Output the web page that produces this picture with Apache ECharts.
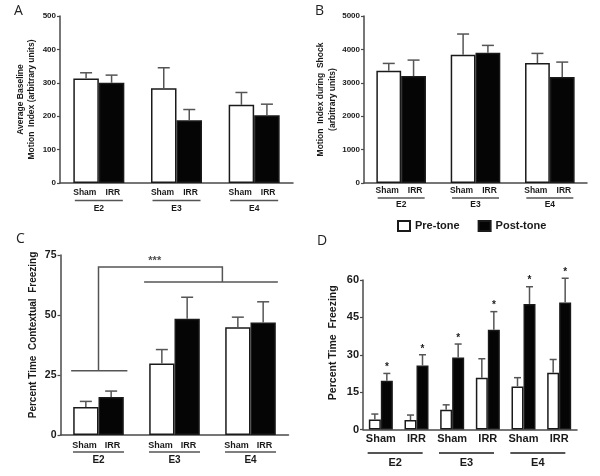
<!DOCTYPE html>
<html><head><meta charset="utf-8">
<script src="https://cdn.jsdelivr.net/npm/echarts@6/dist/echarts.min.js"></script>
<style>html,body{margin:0;padding:0;background:#fff}#c{width:600px;height:476px}</style>
</head><body><div id="c"></div>
<script>
// ---- data ----
const groups = ['E2', 'E3', 'E4'];
const aSham = [313, 284, 234];
const aShamSem = [17, 61, 37];
const aIrr = [300, 188, 203];
const aIrrSem = [23, 32, 33];
const bSham = [3360, 3840, 3590];
const bShamSem = [220, 620, 290];
const bIrr = [3200, 3900, 3170];
const bIrrSem = [480, 220, 450];
const cSham = [11.7, 29.8, 44.9];
const cShamSem = [2.3, 5.8, 4.2];
const cIrr = [15.8, 48.4, 46.9];
const cIrrSem = [2.5, 9.0, 8.6];
const dCats = ['Sham', 'IRR', 'Sham', 'IRR', 'Sham', 'IRR'];
const dGroups = ['E2', 'E3', 'E4'];
const dPre = [4.0, 3.8, 7.9, 20.8, 17.3, 22.8];
const dPreSem = [2.2, 2.0, 2.0, 7.6, 3.5, 5.3];
const dPost = [19.6, 25.7, 28.9, 40.0, 50.4, 51.0];
const dPostSem = [2.9, 4.3, 5.4, 7.3, 6.9, 9.7];
const cSigText = '***';
// bracket in panel C (x in group units 0..3, y in % freezing)
const cBracketE2 = [[0.14, 26.8], [0.88, 26.8]];
const cBracketMain = [[0.5, 26.8], [0.5, 70], [2.13, 70], [2.13, 63.7]];
const cBracketE34 = [[1.1, 63.7], [2.86, 63.7]];
const cSigPos = [1.24, 72.6];

// ---- style ----
const FF = '"Liberation Sans", Arial, sans-serif';
const AX = '#4a4a4a';
const TXT = '#1a1a1a';
const chart = echarts.init(document.getElementById('c'), null, {renderer: 'canvas'});

function yAx(gi, max, interval, name, fs, nameGap, nameFs, lh, namePad) {
  return {
    type: 'value', gridIndex: gi, min: 0, max: max, interval: interval,
    axisLine: {show: true, lineStyle: {color: AX, width: 1.5}},
    axisTick: {show: true, length: 3, lineStyle: {color: AX, width: 1.2}},
    splitLine: {show: false},
    axisLabel: {fontSize: fs, fontWeight: 'bold', fontFamily: FF, color: TXT, margin: 4, formatter: v => String(v)},
    name: name, nameLocation: 'middle', nameGap: nameGap, nameRotate: 90,
    nameTextStyle: {fontSize: nameFs, fontWeight: 'bold', fontFamily: FF, color: TXT, lineHeight: lh, padding: namePad || 0}
  };
}
function xAxGroup(gi, fs, gfs, margin, r1, lnH, r3, lnW) {
  return {
    type: 'category', gridIndex: gi, data: groups,
    axisLine: {show: true, lineStyle: {color: AX, width: 1.5}},
    axisTick: {show: false},
    axisLabel: {
      margin: margin, interval: 0,
      formatter: v => '{s|Sham}{i|IRR}\n{ln| }\n{g|' + v + '}',
      rich: {
        s: {width: 28, align: 'center', fontSize: fs, fontWeight: 'bold', fontFamily: FF, color: TXT, lineHeight: r1},
        i: {width: 28, align: 'center', fontSize: fs, fontWeight: 'bold', fontFamily: FF, color: TXT, lineHeight: r1},
        ln: {width: lnW, height: 1.5, lineHeight: lnH, fontSize: 1, backgroundColor: '#555'},
        g: {fontSize: gfs, fontWeight: 'bold', fontFamily: FF, color: TXT, lineHeight: r3}
      }
    }
  };
}
function bar(name, xi, yi, data, black, bw) {
  return {
    type: 'bar', name: name, xAxisIndex: xi, yAxisIndex: yi, data: data, barWidth: bw, barGap: '0%',
    itemStyle: {color: black ? '#050505' : '#ffffff', borderColor: '#1a1a1a', borderWidth: 1.5},
    emphasis: {disabled: true}
  };
}
function err(xi, yi, vals, sems, offset, capW, star) {
  return {
    type: 'custom', xAxisIndex: xi, yAxisIndex: yi, z: 5, silent: true,
    data: vals.map((v, i) => [i, v, v + sems[i]]),
    renderItem: function (params, api) {
      const c = api.coord([api.value(0), api.value(1)]);
      const t = api.coord([api.value(0), api.value(2)]);
      const x = c[0] + offset;
      const st = {stroke: '#555', lineWidth: 1.5};
      const ch = [
        {type: 'line', shape: {x1: x, y1: c[1], x2: x, y2: t[1]}, style: st},
        {type: 'line', shape: {x1: x - capW / 2, y1: t[1], x2: x + capW / 2, y2: t[1]}, style: st}
      ];
      if (star) ch.push({type: 'text', x: x, y: t[1] - 1,
        style: {text: '*', fontSize: 10, fontWeight: 'bold', fontFamily: FF, fill: TXT, align: 'center', verticalAlign: 'bottom'}});
      return {type: 'group', children: ch};
    }
  };
}

const LF = '"Open Sans", sans-serif';
const option = {
  animation: false,
  backgroundColor: '#fff',
  legend: {
    data: ['Pre-tone', 'Post-tone'], left: 397, top: 220, itemWidth: 12, itemHeight: 10, itemGap: 18, padding: 0,
    icon: 'rect', selectedMode: false,
    textStyle: {fontSize: 11, fontWeight: 'bold', fontFamily: FF, color: TXT}
  },
  graphic: [
    {type: 'text', left: 14, top: 4, style: {text: 'A', fontSize: 14, fontFamily: LF, fill: '#222'}},
    {type: 'text', left: 315, top: 4, style: {text: 'B', fontSize: 14, fontFamily: LF, fill: '#222'}},
    {type: 'text', left: 16, top: 232, style: {text: 'C', fontSize: 14, fontFamily: LF, fill: '#222'}},
    {type: 'text', left: 317, top: 234, style: {text: 'D', fontSize: 14, fontFamily: LF, fill: '#222'}}
  ],
  grid: [
    {left: 60, top: 16, width: 233, height: 167},
    {left: 364, top: 16, width: 223, height: 167},
    {left: 60.5, top: 255, width: 228, height: 180},
    {left: 363, top: 280, width: 214, height: 149.5},
    {left: 363, top: 428.5, width: 214, height: 1}
  ],
  xAxis: [
    xAxGroup(0, 8.5, 8.5, 4.5, 10, 6, 10, 48),
    xAxGroup(1, 8.5, 8.5, 3, 10, 4, 9, 47),
    xAxGroup(2, 9, 10, 6, 10, 2, 14, 51),
    {type: 'category', gridIndex: 3, data: dCats,
      axisLine: {show: true, lineStyle: {color: AX, width: 1.5}}, axisTick: {show: false},
      axisLabel: {interval: 0, margin: 3, fontSize: 11, fontWeight: 'bold', fontFamily: FF, color: TXT, lineHeight: 12}},
    {type: 'category', gridIndex: 4, data: dGroups,
      axisLine: {show: false}, axisTick: {show: false},
      axisLabel: {interval: 0, margin: 21.5,
        formatter: v => '{ln| }{sp| }\n{g|' + v + '}{sp| }',
        rich: {
          ln: {width: 55, height: 2, lineHeight: 4, fontSize: 1, backgroundColor: '#555'},
          sp: {width: 7, lineHeight: 4, fontSize: 1},
          g: {fontSize: 11, fontWeight: 'bold', fontFamily: FF, color: TXT, lineHeight: 16}
        }}},
    {type: 'value', gridIndex: 2, min: 0, max: 3, show: false}
  ],
  yAxis: [
    yAx(0, 500, 100, 'Average Baseline\nMotion  Index (arbitrary units)', 8, 23, 8.5, 11),
    yAx(1, 5000, 1000, 'Motion  Index during  Shock\n(arbitrary units)', 8, 25, 8.5, 11.5),
    yAx(2, 75, 25, 'Percent Time  Contextual  Freezing', 10.5, 21, 10, 12, [0, 0, 0, 20]),
    yAx(3, 60, 15, 'Percent Time  Freezing', 11, 24, 10.5, 12, [0, 0, 0, 24]),
    {type: 'value', gridIndex: 4, show: false, min: 0, max: 1}
  ],
  series: [
    bar('A Sham', 0, 0, aSham, false, 25.5),
    bar('A IRR', 0, 0, aIrr, true, 25.5),
    err(0, 0, aSham, aShamSem, -12.75, 12, false),
    err(0, 0, aIrr, aIrrSem, 12.75, 12, false),
    bar('B Sham', 1, 1, bSham, false, 24.8),
    bar('B IRR', 1, 1, bIrr, true, 24.8),
    err(1, 1, bSham, bShamSem, -12.4, 12, false),
    err(1, 1, bIrr, bIrrSem, 12.4, 12, false),
    bar('C Sham', 2, 2, cSham, false, 25.3),
    bar('C IRR', 2, 2, cIrr, true, 25.3),
    err(2, 2, cSham, cShamSem, -12.65, 12, false),
    err(2, 2, cIrr, cIrrSem, 12.65, 12, false),
    {type: 'lines', coordinateSystem: 'cartesian2d', xAxisIndex: 5, yAxisIndex: 2, polyline: true, silent: true,
      lineStyle: {color: '#555', width: 1.5, opacity: 1},
      data: [{coords: cBracketE2}, {coords: cBracketMain}, {coords: cBracketE34}]},
    {type: 'scatter', xAxisIndex: 5, yAxisIndex: 2, symbolSize: 0, silent: true,
      data: [cSigPos],
      label: {show: true, position: 'inside', formatter: cSigText, fontSize: 11, fontWeight: 'bold', fontFamily: FF, color: TXT}},
    bar('Pre-tone', 3, 3, dPre, false, 12),
    bar('Post-tone', 3, 3, dPost, true, 12),
    err(3, 3, dPre, dPreSem, -6, 7, false),
    err(3, 3, dPost, dPostSem, 6, 7, true)
  ]
};
chart.setOption(option);
</script></body></html>
